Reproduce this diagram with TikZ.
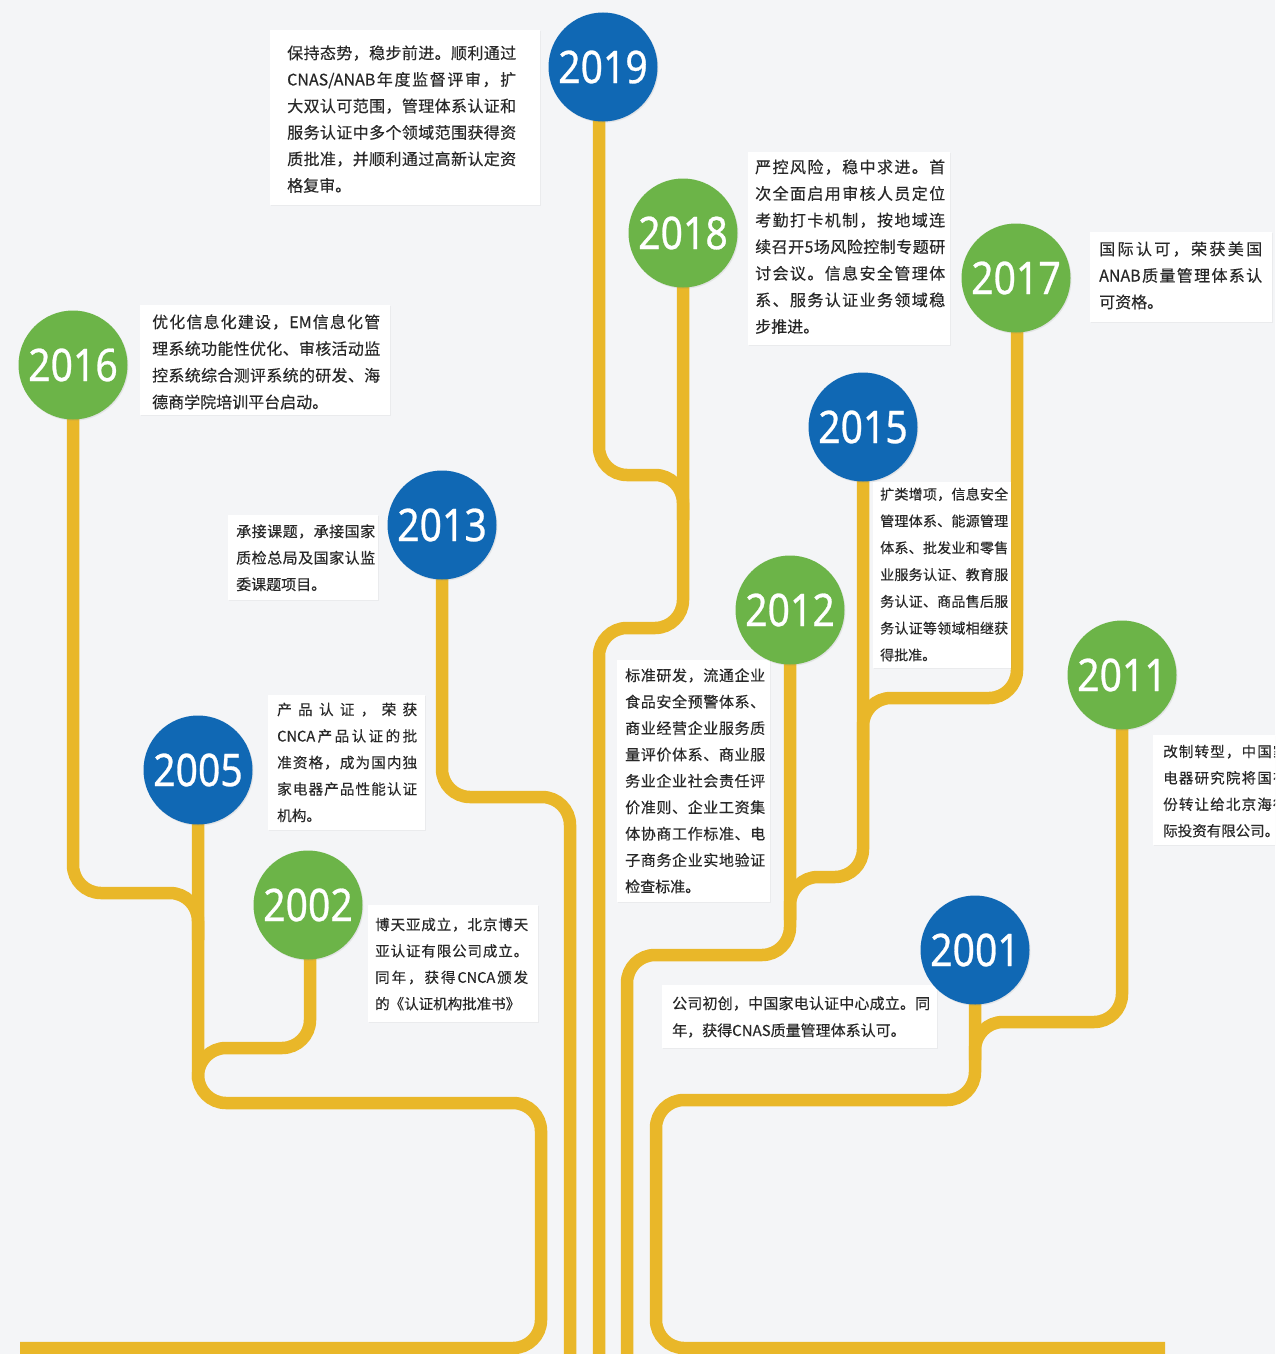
\documentclass[tikz,border=0pt]{standalone}
\usepackage{fontspec}
\newfontfamily\cjk[FakeBold=0.35]{Noto Sans CJK SC}
\newfontfamily\yearfont[FakeStretch=0.87,FakeBold=0.6]{Noto Sans}
\usetikzlibrary{shadows}
\definecolor{bg}{RGB}{244,245,247}
\definecolor{gold}{RGB}{233,183,41}
\definecolor{cblue}{RGB}{16,104,180}
\definecolor{cgreen}{RGB}{108,180,72}
\definecolor{txt}{RGB}{40,40,40}
\newlength\jw
\newcommand\jl[1]{\leavevmode\hbox to\jw{#1}}
\hbadness=10000 \hfuzz=20pt
\XeTeXinterchartokenstate=1
\newcount\cjkc
\cjkc="3000 \loop\ifnum\cjkc<"3040 \XeTeXcharclass\cjkc=7 \advance\cjkc by 1 \repeat
\cjkc="4E00 \loop\ifnum\cjkc<"A000 \XeTeXcharclass\cjkc=7 \advance\cjkc by 1 \repeat
\cjkc="FF00 \loop\ifnum\cjkc<"FF60 \XeTeXcharclass\cjkc=7 \advance\cjkc by 1 \repeat
\XeTeXinterchartoks 7 7 = {\hskip 0pt plus 1pt\relax}
\XeTeXinterchartoks 0 7 = {\hskip 0pt plus 1pt\relax}
\XeTeXinterchartoks 7 0 = {\hskip 0pt plus 1pt\relax}
\pgfdeclarelayer{bgl}
\pgfdeclarelayer{lines}
\pgfdeclarelayer{boxes}
\pgfsetlayers{bgl,lines,boxes,main}
\tikzset{
  branch/.style={draw=gold, line width=12.5pt, rounded corners=28pt},
  yr/.style={circle, minimum size=109pt, inner sep=0pt, text=white,
    font=\yearfont\fontsize{45}{45}\selectfont,
    drop shadow={opacity=0.15, shadow xshift=1pt, shadow yshift=-1.2pt}},
  yb/.style={yr, fill=cblue},
  yg/.style={yr, fill=cgreen},
  wbox/.style={fill=white, draw=none, inner sep=0pt, anchor=north west,
    drop shadow={opacity=0.08, shadow xshift=1pt, shadow yshift=-1pt}},
  tx/.style n args={3}{anchor=base west, inner sep=0pt, text=txt, align=left,
    text width=#3pt+8pt, font=\cjk\fontsize{#1}{#2}\selectfont,
    execute at begin node={\setlength\jw{#3pt}}},
}
\begin{document}
\begin{tikzpicture}[x=1pt,y=-1pt]
\useasboundingbox (0,0) rectangle (1275,1354);
\begin{pgfonlayer}{bgl}
\fill[bg] (0,0) rectangle (1275,1354);
\end{pgfonlayer}

% circles
\node[yb] (c2019) at (603,67) {2019};
\node[yg] (c2018) at (683,233) {2018};
\node[yg] (c2017) at (1016,278) {2017};
\node[yg] (c2016) at (73,365) {2016};
\node[yb] (c2015) at (863,427) {2015};
\node[yb] (c2013) at (442,525) {2013};
\node[yg] (c2012) at (790,610) {2012};
\node[yg] (c2011) at (1122,675) {2011};
\node[yb] (c2005) at (198,770) {2005};
\node[yg] (c2002) at (308,905) {2002};
\node[yb] (c2001) at (975,950) {2001};

\coordinate (bl) at (20,1348);
\coordinate (br) at (1165,1348);
\coordinate (e1) at (570,1356);
\coordinate (e2) at (599,1356);
\coordinate (e3) at (627,1356);

\begin{pgfonlayer}{lines}
\draw[branch] (c2016.center) -- (73,893) -- (198,893) -- (198,940);
\draw[branch] (c2005.center) -- (198,1103) -- (541,1103) -- (541,1348) -- (bl);
\draw[branch] (c2002.center) ++(2,0) -- (310,1048) -- (198,1048) -- (198,1080);
\draw[branch] (c2013.center) -- (442,797) -- (570,797) -- (e1);
\draw[branch] (c2019.center) ++(-4,0) -- (599,475) -- (683,475) -- (683,520);
\draw[branch] (c2018.center) -- (683,628) -- (599,628) -- (e2);
\draw[branch] (c2012.center) -- (790,955) -- (627,955) -- (e3);
\draw[branch] (c2015.center) -- (863,877) -- (790,877) -- (790,920);
\draw[branch] (c2017.center) ++(1,0) -- (1017,698) -- (863,698) -- (863,760);
\draw[branch] (c2011.center) -- (1122,1022) -- (975,1022) -- (975,1060);
\draw[branch] (c2001.center) -- (975,1100) -- (656,1100) -- (656,1348) -- (br);
\end{pgfonlayer}

% text boxes
\begin{pgfonlayer}{boxes}
\clip (0,0) rectangle (1275,1354);
\node[wbox, minimum width=270pt, minimum height=175pt] (b2019) at (270,30) {};
\node[wbox, minimum width=202pt, minimum height=193pt] (b2018) at (748,152) {};
\node[wbox, minimum width=182pt, minimum height=90pt] (b2017) at (1090,232) {};
\node[wbox, minimum width=250pt, minimum height=110pt] (b2016) at (140,305) {};
\node[wbox, minimum width=150pt, minimum height=85pt] (b2013) at (228,515) {};
\node[wbox, minimum width=138pt, minimum height=186pt] (b2015) at (873,482) {};
\node[wbox, minimum width=157pt, minimum height=135pt] (b2005) at (268,695) {};
\node[wbox, minimum width=153pt, minimum height=242pt] (b2012) at (617,660) {};
\node[wbox, minimum width=170pt, minimum height=117pt] (b2002) at (368,905) {};
\node[wbox, minimum width=140pt, minimum height=110pt] (b2011) at (1153,735) {};
\node[wbox, minimum width=275pt, minimum height=63pt] (b2001) at (662,985) {};

\node[tx={16}{26.5}{229}] (t2019) at (287,59) {\jl{保持态势，稳步前进。顺利通过}\\
\jl{CNAS/ANAB年度监督评审，扩}\\
\jl{大双认可范围，管理体系认证和}\\
\jl{服务认证中多个领域范围获得资}\\
\jl{质批准，并顺利通过高新认定资}\\
格复审。};

\node[tx={16}{26.6}{190}] (t2018) at (755,173) {\jl{严控风险，稳中求进。首}\\
\jl{次全面启用审核人员定位}\\
\jl{考勤打卡机制，按地域连}\\
\jl{续召开5场风险控制专题研}\\
\jl{讨会议。信息安全管理体}\\
\jl{系、服务认证业务领域稳}\\
步推进。};

\node[tx={16}{26.5}{163}] (t2017) at (1099,255) {\jl{国际认可，荣获美国}\\
\jl{ANAB质量管理体系认}\\
可资格。};

\node[tx={16}{26.7}{228}] (t2016) at (152,328) {\jl{优化信息化建设，EM信息化管}\\
\jl{理系统功能性优化、审核活动监}\\
\jl{控系统综合测评系统的研发、海}\\
德商学院培训平台启动。};

\node[tx={15}{26.5}{139}] (t2013) at (236,537) {\jl{承接课题，承接国家}\\
\jl{质检总局及国家认监}\\
委课题项目。};

\node[tx={14}{26.8}{128}] (t2015) at (880,499.5) {\jl{扩类增项，信息安全}\\
\jl{管理体系、能源管理}\\
\jl{体系、批发业和零售}\\
\jl{业服务认证、教育服}\\
\jl{务认证、商品售后服}\\
\jl{务认证等领域相继获}\\
得批准。};

\node[tx={14.6}{26.5}{140}] (t2005) at (277,715) {\jl{产品认证，荣获}\\
\jl{CNCA产品认证的批}\\
\jl{准资格，成为国内独}\\
\jl{家电器产品性能认证}\\
机构。};

\node[tx={15}{26.4}{140}] (t2012) at (625,681) {\jl{标准研发，流通企业}\\
\jl{食品安全预警体系、}\\
\jl{商业经营企业服务质}\\
\jl{量评价体系、商业服}\\
\jl{务业企业社会责任评}\\
\jl{价准则、企业工资集}\\
\jl{体协商工作标准、电}\\
\jl{子商务企业实地验证}\\
检查标准。};

\node[tx={14.5}{26.4}{153}] (t2002) at (375,930) {\jl{博天亚成立，北京博天}\\
\jl{亚认证有限公司成立。}\\
\jl{同年，获得CNCA颁发}\\
的《认证机构批准书》};

\node[tx={14.5}{26.4}{140}] (t2011) at (1163,757) {\jl{改制转型，中国家用}\\
\jl{电器研究院将国有股}\\
\jl{份转让给北京海德国}\\
际投资有限公司。};

\node[tx={15}{27}{258}] (t2001) at (672,1009) {\jl{公司初创，中国家电认证中心成立。同}\\
年，获得CNAS质量管理体系认可。};
\end{pgfonlayer}
\end{tikzpicture}
\end{document}
